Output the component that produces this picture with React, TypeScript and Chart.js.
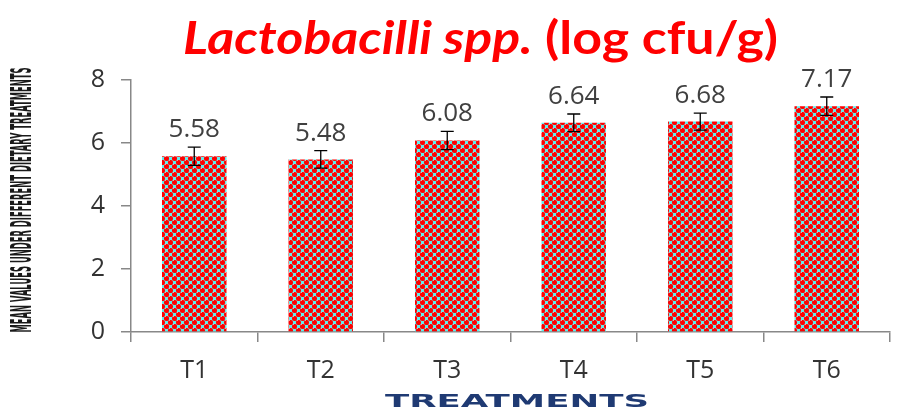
import React, { useEffect, useRef } from "react";
import { Chart, registerables } from "chart.js";

Chart.register(...registerables);

const categories = ["T1", "T2", "T3", "T4", "T5", "T6"];
const meanValues = [5.58, 5.48, 6.08, 6.64, 6.68, 7.17];
const errorValues = [0.29, 0.28, 0.29, 0.28, 0.27, 0.29];
const yTicks = [0, 2, 4, 6, 8];

const titleItalic = "Lactobacilli spp.";
const titleRegular = " (log cfu/g)";
const yTitle = "MEAN VALUES UNDER DIFFERENT DIETARY TREATMENTS";
const xTitle = "TREATMENTS";

function makePattern(): CanvasPattern | string {
  const tile = document.createElement("canvas");
  tile.width = 8;
  tile.height = 8;
  const c = tile.getContext("2d");
  if (!c) return "#ff0000";
  c.fillStyle = "#5ff0f0";
  c.fillRect(0, 0, 8, 8);
  c.fillStyle = "#ff0000";
  const dots = [
    [2.5, 2.5],
    [6.5, 6.5],
  ];
  for (const [x, y] of dots) {
    for (const [dx, dy] of [[0, 0], [8, 0], [0, 8], [8, 8], [-8, 0], [0, -8], [-8, -8], [8, -8], [-8, 8]]) {
      c.beginPath();
      c.arc(x + dx, y + dy, 2.55, 0, Math.PI * 2);
      c.fill();
    }
  }
  c.fillStyle = "rgba(255,170,170,0.9)";
  for (const [x, y] of dots) {
    c.fillRect(Math.floor(x) - 1, Math.floor(y) - 2, 1, 1);
  }
  const p = c.createPattern(tile, "repeat");
  return p || "#ff0000";
}

const decorPlugin = {
  id: "decor",
  afterDatasetsDraw(chart: any) {
    const ctx = chart.ctx as CanvasRenderingContext2D;
    const yScale = chart.scales.y;
    const meta = chart.getDatasetMeta(0);
    ctx.save();
    ctx.strokeStyle = "#000000";
    ctx.lineWidth = 1.3;
    meta.data.forEach((bar: any, i: number) => {
      const x = bar.x;
      const yTop = yScale.getPixelForValue(meanValues[i] + errorValues[i]);
      const yBot = yScale.getPixelForValue(meanValues[i] - errorValues[i]);
      ctx.beginPath();
      ctx.moveTo(x, yTop);
      ctx.lineTo(x, yBot);
      ctx.moveTo(x - 6.5, yTop);
      ctx.lineTo(x + 6.5, yTop);
      ctx.moveTo(x - 6.5, yBot);
      ctx.lineTo(x + 6.5, yBot);
      ctx.stroke();
      ctx.fillStyle = "#404040";
      ctx.font = "26px 'Open Sans'";
      ctx.textAlign = "center";
      ctx.textBaseline = "alphabetic";
      ctx.fillText(meanValues[i].toFixed(2), x, yTop - 10);
    });
    ctx.restore();
  },
  afterDraw(chart: any) {
    const ctx = chart.ctx as CanvasRenderingContext2D;
    ctx.save();
    ctx.fillStyle = "#ff0000";
    ctx.textBaseline = "alphabetic";
    ctx.textAlign = "left";
    const f1 = "italic bold 46px Lato";
    const f2 = "bold 46px Lato";
    ctx.font = f1;
    const w1 = ctx.measureText(titleItalic).width;
    ctx.font = f2;
    const w2 = ctx.measureText(titleRegular).width;
    const target = 595;
    const sx = target / (w1 + w2);
    ctx.save();
    ctx.translate(183, 54);
    ctx.scale(sx, 1);
    ctx.font = f1;
    ctx.fillText(titleItalic, 0, 0);
    ctx.font = f2;
    ctx.fillText(titleRegular, w1, 0);
    ctx.restore();

    ctx.save();
    ctx.fillStyle = "#1a1a1a";
    ctx.font = "bold 28px 'DejaVu Sans Condensed'";
    const wy = ctx.measureText(yTitle).width;
    ctx.translate(24, 200);
    ctx.rotate(-Math.PI / 2);
    ctx.scale(265 / wy, 1);
    ctx.textAlign = "center";
    ctx.textBaseline = "middle";
    ctx.fillText(yTitle, 0, 0);
    ctx.restore();

    ctx.save();
    ctx.fillStyle = "#1f3a73";
    ctx.font = "bold 18px 'DejaVu Sans'";
    const wx = ctx.measureText(xTitle).width;
    ctx.translate(517, 402);
    ctx.scale(264 / wx, 1);
    ctx.textAlign = "center";
    ctx.textBaseline = "middle";
    ctx.fillText(xTitle, 0, 0);
    ctx.restore();

    ctx.restore();
  },
};

export default function App() {
  const ref = useRef<HTMLCanvasElement | null>(null);
  useEffect(() => {
    document.body.style.margin = "0";
    if (!ref.current) return;
    const chart = new Chart(ref.current, {
      type: "bar",
      data: {
        labels: categories,
        datasets: [
          {
            data: meanValues,
            backgroundColor: makePattern() as any,
            borderWidth: 0,
            barPercentage: 0.51,
            categoryPercentage: 1,
          },
        ],
      },
      options: {
        animation: false,
        responsive: false,
        layout: { padding: { top: 80, right: 8, left: 0, bottom: 0 } },
        plugins: {
          legend: { display: false },
          tooltip: { enabled: false },
          title: { display: false },
        },
        scales: {
          x: {
            grid: {
              display: true,
              drawOnChartArea: false,
              offset: true,
              tickLength: 10,
              color: "#888888",
              lineWidth: 1.5,
            },
            border: { color: "#888888", width: 1.5 },
            ticks: {
              color: "#333333",
              font: { family: "'Open Sans'", size: 25 },
              padding: 14,
            },
            afterFit(scale: any) {
              scale.height = 84;
            },
          },
          y: {
            min: 0,
            max: 8,
            afterBuildTicks(scale: any) {
              scale.ticks = yTicks.map((v) => ({ value: v }));
            },
            grid: {
              display: true,
              drawOnChartArea: false,
              tickLength: 10,
              color: "#888888",
              lineWidth: 1.5,
            },
            border: { color: "#888888", width: 1.5 },
            ticks: {
              color: "#333333",
              font: { family: "'Open Sans'", size: 25 },
              padding: 16,
            },
            afterFit(scale: any) {
              scale.width = 131;
            },
          },
        },
      },
      plugins: [decorPlugin],
    });
    return () => chart.destroy();
  }, []);
  return (
    <div style={{ width: 898, height: 416 }}>
      <canvas ref={ref} width={898} height={416} />
    </div>
  );
}
